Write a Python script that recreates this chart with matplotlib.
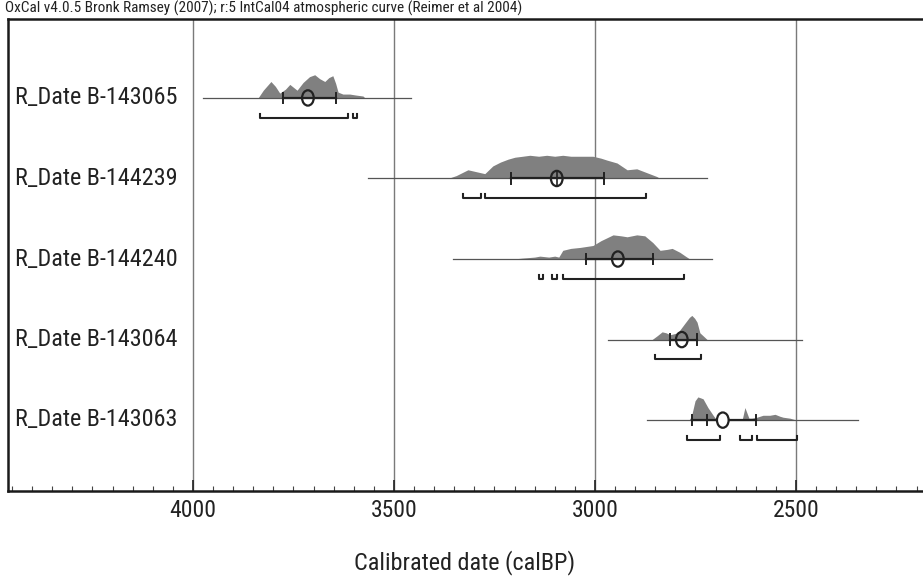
import matplotlib
matplotlib.use("Agg")
import matplotlib.pyplot as plt
from matplotlib import font_manager
from matplotlib.patches import Ellipse
from matplotlib.ticker import MultipleLocator, FixedLocator


def pick_font():
    for name in ["Liberation Sans Narrow", "Arial Narrow", "Roboto Condensed",
                 "PT Sans Narrow", "Archivo Narrow", "Liberation Sans"]:
        try:
            font_manager.findfont(name, fallback_to_default=False)
            return name
        except Exception:
            pass
    return "DejaVu Sans"


FONT = pick_font()
NARROW = FONT != "Liberation Sans" and FONT != "DejaVu Sans"

title = "OxCal v4.0.5 Bronk Ramsey (2007); r:5 IntCal04 atmospheric curve (Reimer et al 2004)"
xlabel = "Calibrated date (calBP)"

labels = [
    "R_Date B-143065",
    "R_Date B-144239",
    "R_Date B-144240",
    "R_Date B-143064",
    "R_Date B-143063",
]

# probability curves (calBP, height in px of a 25 px max)
dens_years = [
    [3838, 3825, 3806, 3795, 3784, 3770, 3759, 3750, 3741, 3726, 3710, 3697,
     3685, 3672, 3662, 3652, 3645, 3639, 3627, 3610, 3595, 3577, 3572],
    [3366, 3345, 3316, 3295, 3274, 3254, 3235, 3216, 3199, 3180, 3162, 3140,
     3120, 3100, 3080, 3060, 3040, 3005, 2985, 2970, 2945, 2920, 2896, 2871,
     2846, 2838],
    [3204, 3180, 3150, 3137, 3115, 3100, 3090, 3080, 3060, 3037, 3005, 2985,
     2970, 2955, 2935, 2920, 2896, 2876, 2856, 2838, 2820, 2808, 2789, 2775,
     2764],
    [2858, 2845, 2833, 2823, 2813, 2794, 2776, 2765, 2759, 2752, 2746, 2739,
     2726, 2721],
    [2766, 2760, 2751, 2744, 2737, 2731, 2719, 2706, 2697, 2634, 2627, 2617,
     2610, 2597, 2582, 2565, 2552, 2540, 2532, 2515, 2498],
]
dens_heights = [
    [0, 8, 17, 12, 5, 9, 14, 11, 8, 16, 22, 24, 20, 17, 21, 23, 15, 6, 4, 4,
     3, 2, 0],
    [0, 3, 9, 7, 5, 13, 17, 20, 22, 23, 24, 23, 24, 23, 24, 23, 23, 23, 21,
     19, 16, 9, 10, 6, 2, 0],
    [0, 1, 2, 3, 2, 3, 2, 9, 11, 12, 14, 19, 22, 25, 24, 23, 25, 24, 17, 9,
     10, 11, 7, 3, 0],
    [0, 4, 8, 7, 5, 7, 17, 23, 25, 22, 18, 7, 2, 0],
    [0, 4, 20, 24, 23, 22, 13, 5, 0, 0, 13, 2, 2, 3, 5, 5, 6, 4, 3, 2, 0],
]

line_span = [(3975, 3458), (3565, 2721), (3353, 2709), (2968, 2485), (2871, 2346)]
sigma_span = [(3776, 3644), (3209, 2978), (3022, 2856), (2813, 2746), (2759, 2600)]
sigma_extra = [[], [], [], [], [2721]]
means = [3714, 3095, 2943, 2784, 2682]
ranges95 = [
    [(3833, 3614), (3602, 3592)],
    [(3328, 3284), (3274, 2873)],
    [(3139, 3129), (3107, 3095), (3080, 2779)],
    [(2851, 2736)],
    [(2771, 2689), (2639, 2609), (2597, 2498)],
]

major_ticks = [4000, 3500, 3000, 2500]

plt.rcParams["font.family"] = [FONT, "DejaVu Sans"]
TXT = "#222222"

fig = plt.figure(figsize=(9.23, 5.81), dpi=100)
ax = fig.add_axes([8 / 923, 90 / 581, 915 / 923, 472 / 581])

ax.set_xlim(4460, 2184)
ax.set_ylim(4.88, -0.98)

# gridlines at the labelled dates
for t in major_ticks:
    ax.axvline(t, color="#7a7a7a", lw=1.0, zorder=1)

peak = 0.30
for i in range(len(labels)):
    top = [i - peak * h / 25 for h in dens_heights[i]]
    ax.fill_between(dens_years[i], i, top, color="#808080", lw=0, zorder=2)

    ax.plot(line_span[i], [i, i], color="#555555", lw=0.9, zorder=3)

    s0, s1 = sigma_span[i]
    ax.plot([s0, s1], [i, i], color=TXT, lw=1.6, zorder=4)
    for t in [s0, s1] + sigma_extra[i]:
        ax.plot([t, t], [i - 0.065, i + 0.065], color=TXT, lw=1.4, zorder=4)

    face = "white" if i == 4 else "none"
    ax.add_patch(Ellipse((means[i], i), 29, 0.19, facecolor=face,
                         edgecolor=TXT, lw=1.6, zorder=5))
    if i == 1:
        ax.plot([means[i], means[i]], [i - 0.09, i + 0.09], color=TXT,
                lw=1.2, zorder=5)

    yb = i + 0.245
    for a, b in ranges95[i]:
        ax.plot([a, a, b, b], [yb - 0.05, yb, yb, yb - 0.05],
                color=TXT, lw=1.5, zorder=4)

big = 17.4 if NARROW else 14.6
for i, lab in enumerate(labels):
    y_fig = 1 - (98 + 80.5 * i) / 581
    fig.text(15 / 923, y_fig, lab, fontsize=big, color=TXT,
             ha="left", va="center")

fig.text(5 / 923, 1 - 8 / 581, title, fontsize=11 if NARROW else 7.7,
         color=TXT, ha="left", va="center")

ax.xaxis.set_major_locator(FixedLocator(major_ticks))
ax.xaxis.set_minor_locator(MultipleLocator(50))
ax.set_yticks([])
ax.tick_params(axis="x", which="major", direction="in", length=8, width=1.2,
               color=TXT, pad=6, labelsize=17 if NARROW else 14,
               labelcolor=TXT)
ax.tick_params(axis="x", which="minor", direction="in", length=3.5,
               width=0.8, color="#444444")

fig.text(465 / 923, 1 - 563 / 581, xlabel, fontsize=big, color=TXT,
         ha="center", va="center")

for side in ["top", "left", "bottom"]:
    ax.spines[side].set_linewidth(1.8)
    ax.spines[side].set_color("#1a1a1a")
ax.spines["right"].set_visible(False)

fig.savefig("out.png", dpi=100)
